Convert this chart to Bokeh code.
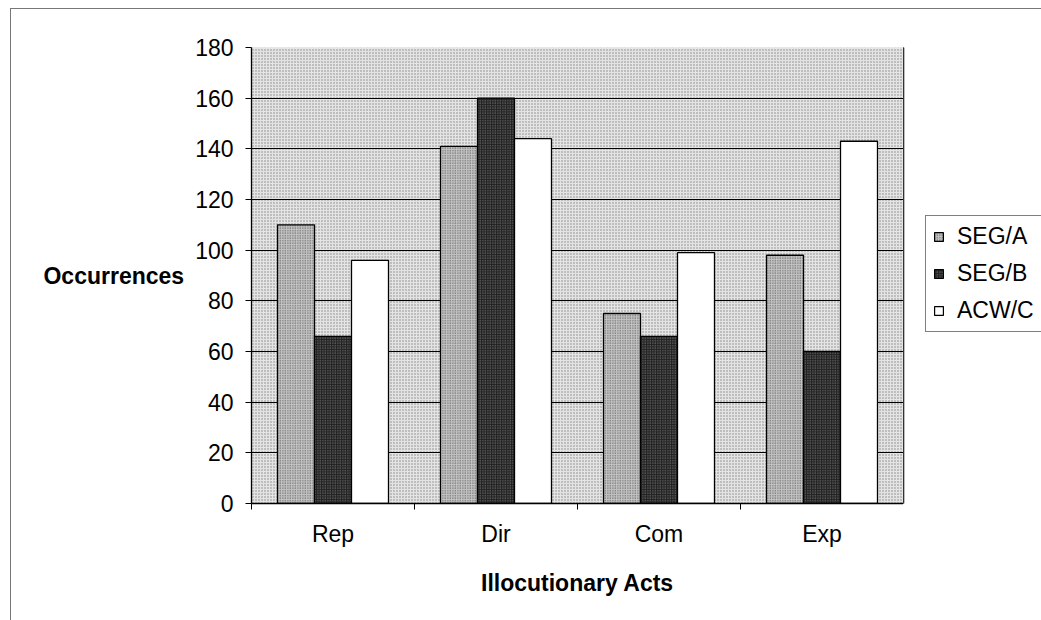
from bokeh.plotting import figure
from bokeh.layouts import row
from bokeh.models import (Range1d, FixedTicker, Legend, LegendItem, BoxAnnotation)
from bokeh.embed import file_html
from bokeh.resources import INLINE

categories = ["Rep", "Dir", "Com", "Exp"]
series_names = ["SEG/A", "SEG/B", "ACW/C"]
seg_a = [110, 141, 75, 98]
seg_b = [66, 160, 66, 60]
acw_c = [96, 144, 99, 143]
y_ticks = [0, 20, 40, 60, 80, 100, 120, 140, 160, 180]

FONT = "Liberation Sans"
TICK_FS = "23px"
LABEL_FS = "23px"

p = figure(width=892, height=611, output_backend="svg", toolbar_location=None,
           x_range=Range1d(0, len(categories)), y_range=Range1d(0, 180),
           min_border_left=240, min_border_top=38, min_border_right=0,
           min_border_bottom=117)
p.outline_line_color = None
p.background_fill_color = "#e6e6e6"
p.border_fill_color = "white"

bg = BoxAnnotation(fill_color="#e4e4e4", fill_alpha=1.0, hatch_pattern="dot",
                   hatch_color="#7a7a7a", hatch_scale=3, hatch_alpha=0.9,
                   line_color=None, level="image")
p.add_layout(bg)

bw = 0.227
offsets = [-bw, 0.0, bw]
series = [seg_a, seg_b, acw_c]
styles = [
    dict(fill_color="#c4c4c4", hatch_pattern="dot", hatch_color="#4a4a4a", hatch_scale=2.5),
    dict(fill_color="#222222", hatch_pattern="dot", hatch_color="#8a8a8a", hatch_scale=2.5),
    dict(fill_color="white"),
]
for vals, off, st in zip(series, offsets, styles):
    xs = [i + 0.5 + off for i in range(len(categories))]
    p.vbar(x=xs, top=vals, bottom=0, width=bw, line_color="black", line_width=1.3, **st)

# axes
xa = p.xaxis[0]
xa.ticker = FixedTicker(ticks=[i + 0.5 for i in range(len(categories))],
                        minor_ticks=list(range(len(categories) + 1)))
xa.major_label_overrides = {i + 0.5: c for i, c in enumerate(categories)}
xa.major_tick_out = 0
xa.major_tick_in = 0
xa.minor_tick_out = 6
xa.minor_tick_in = 0
xa.minor_tick_line_color = "black"
xa.axis_line_color = "black"
xa.axis_line_width = 1.3
xa.major_label_text_font = FONT
xa.major_label_text_font_size = TICK_FS
xa.major_label_text_color = "black"
xa.major_label_standoff = 11
xa.axis_label = "Illocutionary Acts"
xa.axis_label_text_font = FONT
xa.axis_label_text_font_size = LABEL_FS
xa.axis_label_text_font_style = "bold"
xa.axis_label_text_color = "black"
xa.axis_label_standoff = 20

ya = p.yaxis[0]
ya.ticker = FixedTicker(ticks=y_ticks, minor_ticks=[])
ya.major_tick_out = 6
ya.major_tick_in = 0
ya.major_tick_line_color = "black"
ya.axis_line_color = "black"
ya.axis_line_width = 1.3
ya.major_label_text_font = FONT
ya.major_label_text_font_size = TICK_FS
ya.major_label_text_color = "black"
ya.major_label_standoff = 12
ya.axis_label = "Occurrences"
ya.axis_label_orientation = "horizontal"
ya.axis_label_text_font = FONT
ya.axis_label_text_font_size = LABEL_FS
ya.axis_label_text_font_style = "bold"
ya.axis_label_text_color = "black"
ya.axis_label_standoff = 8

p.xgrid.visible = False
p.ygrid.ticker = FixedTicker(ticks=y_ticks[1:-1])
p.ygrid.grid_line_color = "black"
p.ygrid.grid_line_width = 1

# legend panel (separate figure so the legend sits outside the plot frame)
lg = figure(width=138, height=611, output_backend="svg", toolbar_location=None,
            x_range=Range1d(0, 1), y_range=Range1d(0, 1),
            x_axis_type=None, y_axis_type=None,
            min_border_left=0, min_border_right=0, min_border_top=0, min_border_bottom=0)
lg.outline_line_color = None
lg.background_fill_color = "white"
lg.border_fill_color = "white"
lg.xgrid.visible = False
lg.ygrid.visible = False
items = []
for name, st in zip(series_names, styles):
    # off-screen stand-in glyph, only used to draw the legend swatch
    r = lg.vbar(x=[-5], top=[1], bottom=0, width=0.1, line_color="black", line_width=1.2, **st)
    items.append(LegendItem(label=name, renderers=[r]))

legend = Legend(items=items, location=(22, 171))
legend.label_text_font = FONT
legend.label_text_font_size = "23px"
legend.label_text_color = "black"
legend.glyph_width = 11
legend.glyph_height = 11
legend.label_height = 23
legend.label_standoff = 13
legend.spacing = 10
legend.padding = 7
legend.margin = 0
legend.border_line_color = "black"
legend.border_line_width = 1
legend.background_fill_color = "white"
lg.add_layout(legend, "center")

layout = row(p, lg, spacing=0)
layout.styles = {"border-left": "1px solid #777777", "border-top": "1px solid #777777",
                 "margin-left": "10px", "margin-top": "8px"}

open("out.html", "w").write(file_html(layout, INLINE))
